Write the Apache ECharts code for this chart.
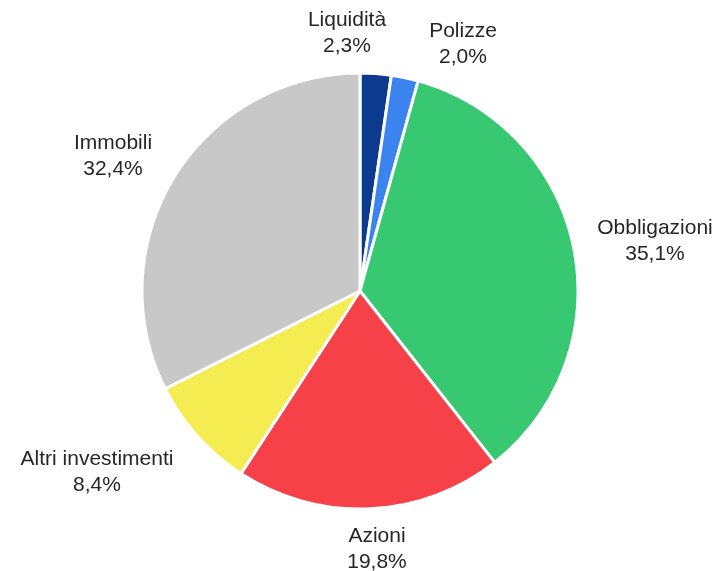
<!DOCTYPE html>
<html>
<head>
<meta charset="utf-8">
<script src="https://cdn.jsdelivr.net/npm/echarts@6/dist/echarts.min.js"></script>
<style>
  html, body { margin: 0; padding: 0; background: #fff; }
  #chart { width: 718px; height: 571px; }
</style>
</head>
<body>
<div id="chart"></div>
<script>
var categories = ['Liquidità', 'Polizze', 'Obbligazioni', 'Azioni', 'Altri investimenti', 'Immobili'];
var values = [2.3, 2.0, 35.1, 19.8, 8.4, 32.4];
var valueLabels = ['2,3%', '2,0%', '35,1%', '19,8%', '8,4%', '32,4%'];
var colors = ['#0b3a8e', '#3b84f0', '#37c871', '#f74149', '#f5ec52', '#c8c8c8'];

// label centres (px), as placed in the original
var labelX = [347, 463, 655, 377, 97, 113];
var labelY = [33, 44, 241, 549, 472, 156];

var chart = echarts.init(document.getElementById('chart'));

var pieData = categories.map(function (name, i) {
  return { name: name, value: values[i], itemStyle: { color: colors[i] } };
});

chart.setOption({
  animation: false,
  series: [
    {
      type: 'pie',
      center: [360, 291],
      radius: 218,
      startAngle: 90,
      clockwise: true,
      data: pieData,
      itemStyle: {
        borderColor: '#ffffff',
        borderWidth: 3
      },
      label: {
        show: true,
        position: 'outside',
        color: '#262626',
        fontFamily: 'Liberation Sans, Arial, sans-serif',
        fontSize: 21,
        lineHeight: 26,
        align: 'center',
        overflow: 'none',
        width: 300,
        formatter: function (p) {
          return p.name + '\n' + valueLabels[p.dataIndex];
        }
      },
      labelLine: { show: false },
      labelLayout: function (params) {
        return {
          x: labelX[params.dataIndex],
          y: labelY[params.dataIndex],
          align: 'center',
          verticalAlign: 'middle'
        };
      }
    }
  ]
});
</script>
</body>
</html>
